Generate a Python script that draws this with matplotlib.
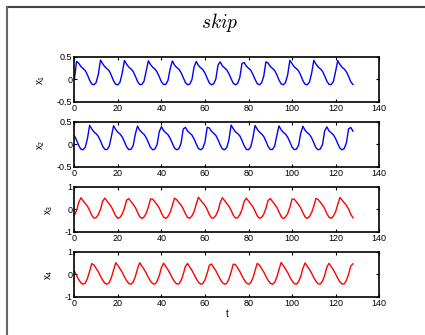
import numpy as np
import matplotlib
matplotlib.use('Agg')
import matplotlib.pyplot as plt
from matplotlib.lines import Line2D

plt.rcParams['font.family'] = ['Liberation Sans', 'DejaVu Sans']
plt.rcParams['mathtext.fontset'] = 'cm'
plt.rcParams['axes.unicode_minus'] = True

# sampled once per time unit, t = 0 .. 128
x1 = [0.0, 0.40, 0.36, 0.286, 0.244, 0.196, 0.10, -0.018, -0.104, -0.12,
      -0.068, 0.114, 0.43, 0.35, 0.28, 0.24, 0.19, 0.087, -0.032, -0.11,
      -0.12, -0.057, 0.147, 0.42, 0.34, 0.274, 0.234, 0.176, 0.073, -0.044,
      -0.113, -0.114, -0.04, 0.19, 0.414, 0.33, 0.27, 0.23, 0.164, 0.059,
      -0.056, -0.115, -0.11, -0.024, 0.234, 0.41, 0.32, 0.265, 0.225, 0.152,
      0.044, -0.068, -0.12, -0.105, -0.007, 0.277, 0.40, 0.31, 0.26, 0.22,
      0.14, 0.03, -0.08, -0.12, -0.10, 0.01, 0.32, 0.39, 0.30, 0.255,
      0.213, 0.128, 0.016, -0.087, -0.12, -0.09, 0.04, 0.355, 0.375, 0.296,
      0.25, 0.206, 0.116, 0.001, -0.094, -0.12, -0.08, 0.072, 0.39, 0.365,
      0.288, 0.246, 0.198, 0.104, -0.013, -0.10, -0.12, -0.07, 0.104, 0.425,
      0.35, 0.28, 0.24, 0.19, 0.09, -0.028, -0.11, -0.12, -0.06, 0.135,
      0.424, 0.342, 0.276, 0.236, 0.18, 0.078, -0.04, -0.112, -0.116, -0.046,
      0.176, 0.417, 0.332, 0.27, 0.23, 0.168, 0.064, -0.054, -0.114]

x2 = [0.193, 0.095, -0.024, -0.107, -0.12, -0.064, 0.127, 0.424, 0.342, 0.276,
      0.236, 0.18, 0.078, -0.04, -0.112, -0.116, -0.046, 0.176, 0.415, 0.33,
      0.27, 0.23, 0.165, 0.06, -0.055, -0.115, -0.11, -0.03, 0.23, 0.406,
      0.318, 0.264, 0.224, 0.15, 0.042, -0.07, -0.12, -0.104, -0.004, 0.284,
      0.395, 0.307, 0.258, 0.217, 0.135, 0.024, -0.083, -0.12, -0.096, 0.023,
      0.34, 0.38, 0.298, 0.252, 0.208, 0.12, 0.006, -0.092, -0.12, -0.084,
      0.05, 0.38, 0.365, 0.29, 0.246, 0.20, 0.105, -0.012, -0.101, -0.12,
      -0.072, 0.10, 0.43, 0.35, 0.28, 0.24, 0.19, 0.09, -0.03, -0.11,
      -0.12, -0.06, 0.14, 0.42, 0.34, 0.274, 0.234, 0.175, 0.072, -0.045,
      -0.113, -0.114, -0.039, 0.194, 0.412, 0.326, 0.268, 0.228, 0.16, 0.054,
      -0.06, -0.116, -0.108, -0.018, 0.248, 0.403, 0.314, 0.262, 0.222, 0.145,
      0.036, -0.075, -0.12, -0.102, -0.003, 0.30, 0.39, 0.30, 0.256, 0.214,
      0.13, 0.018, -0.086, -0.12, -0.09, 0.04, 0.35, 0.375, 0.295]

x3 = [-0.263, -0.047, 0.313, 0.516, 0.386, 0.266, 0.138, -0.048, -0.266, -0.392,
      -0.37, -0.234, 0.004, 0.364, 0.50, 0.367, 0.247, 0.112, -0.086, -0.295,
      -0.40, -0.354, -0.205, 0.055, 0.415, 0.477, 0.348, 0.228, 0.086, -0.124,
      -0.322, -0.41, -0.337, -0.175, 0.108, 0.465, 0.455, 0.328, 0.208, 0.058,
      -0.16, -0.342, -0.403, -0.315, -0.137, 0.172, 0.50, 0.432, 0.31, 0.19,
      0.03, -0.195, -0.36, -0.397, -0.292, -0.10, 0.236, 0.54, 0.41, 0.29,
      0.17, 0.0, -0.23, -0.38, -0.39, -0.27, -0.06, 0.30, 0.52, 0.39,
      0.27, 0.144, -0.038, -0.259, -0.39, -0.374, -0.241, -0.009, 0.351, 0.50,
      0.37, 0.25, 0.119, -0.077, -0.288, -0.40, -0.358, -0.216, 0.042, 0.402,
      0.482, 0.352, 0.232, 0.093, -0.115, -0.316, -0.41, -0.342, -0.184, 0.094,
      0.454, 0.46, 0.333, 0.213, 0.065, -0.151, -0.337, -0.404, -0.32, -0.146,
      0.156, 0.49, 0.438, 0.314, 0.194, 0.036, -0.186, -0.356, -0.398, -0.298,
      -0.11, 0.22, 0.53, 0.415, 0.295, 0.175, 0.007, -0.22, -0.375]

x4 = [0.143, -0.05, -0.234, -0.375, -0.44, -0.386, -0.181, 0.137, 0.48, 0.422,
      0.268, 0.116, -0.08, -0.258, -0.39, -0.44, -0.362, -0.142, 0.194, 0.52,
      0.398, 0.247, 0.089, -0.11, -0.282, -0.405, -0.44, -0.341, -0.103, 0.251,
      0.518, 0.374, 0.226, 0.06, -0.138, -0.304, -0.416, -0.434, -0.308, -0.056,
      0.304, 0.50, 0.35, 0.205, 0.03, -0.165, -0.325, -0.425, -0.425, -0.275,
      -0.005, 0.355, 0.482, 0.326, 0.184, 0.0, -0.192, -0.346, -0.434, -0.416,
      -0.242, 0.046, 0.406, 0.462, 0.303, 0.161, -0.03, -0.218, -0.365, -0.44,
      -0.402, -0.207, 0.099, 0.453, 0.438, 0.282, 0.134, -0.06, -0.242, -0.38,
      -0.44, -0.378, -0.168, 0.156, 0.49, 0.414, 0.261, 0.107, -0.09, -0.266,
      -0.395, -0.44, -0.355, -0.129, 0.213, 0.53, 0.39, 0.24, 0.08, -0.12,
      -0.29, -0.41, -0.44, -0.33, -0.09, 0.27, 0.51, 0.366, 0.219, 0.05,
      -0.147, -0.311, -0.42, -0.431, -0.297, -0.039, 0.321, 0.494, 0.342, 0.198,
      0.02, -0.174, -0.332, -0.428, -0.422, -0.264, 0.012, 0.372, 0.47]

series = [x1, x2, x3, x4]
colors = ['blue', 'blue', 'red', 'red']
ylims = [(-0.5, 0.5), (-0.5, 0.5), (-1, 1), (-1, 1)]
yticks = [[-0.5, 0, 0.5], [-0.5, 0, 0.5], [-1, 0, 1], [-1, 0, 1]]
ylabels = [r'$\mathregular{x_1}$', r'$\mathregular{x_2}$',
           r'$\mathregular{x_3}$', r'$\mathregular{x_4}$']
xticks = [0, 20, 40, 60, 80, 100, 120, 140]

fig = plt.figure(figsize=(4.25, 3.35), dpi=100)
fig.patch.set_facecolor('white')

bottoms = [0.696, 0.502, 0.308, 0.114]
for i, y in enumerate(series):
    ax = fig.add_axes([0.175, bottoms[i], 0.717, 0.134])
    t = np.arange(len(y))
    ax.plot(t, y, color=colors[i], lw=1.0)
    ax.set_xlim(0, 140)
    ax.set_ylim(*ylims[i])
    ax.set_xticks(xticks)
    ax.set_yticks(yticks[i])
    ax.set_yticklabels(['%g' % v for v in yticks[i]])
    ax.tick_params(direction='in', top=True, right=True, length=2.5,
                   width=0.8, labelsize=6.5, pad=1.5)
    for s in ax.spines.values():
        s.set_linewidth(1.2)
    ax.set_ylabel(ylabels[i], fontsize=7, labelpad=7)
    if i == 3:
        ax.set_xlabel('t', fontsize=7, labelpad=1)

fig.text(0.518, 0.934, r'$skip$', ha='center', va='center', fontsize=14)

# frame around the figure (top and left edges)
fig.add_artist(Line2D([7/425, 1.0], [1 - 7/335, 1 - 7/335],
                      transform=fig.transFigure, color='#444444', lw=1.5))
fig.add_artist(Line2D([7/425, 7/425], [0.0, 1 - 7/335],
                      transform=fig.transFigure, color='#666666', lw=1.5))

fig.savefig('out.png', dpi=100)
